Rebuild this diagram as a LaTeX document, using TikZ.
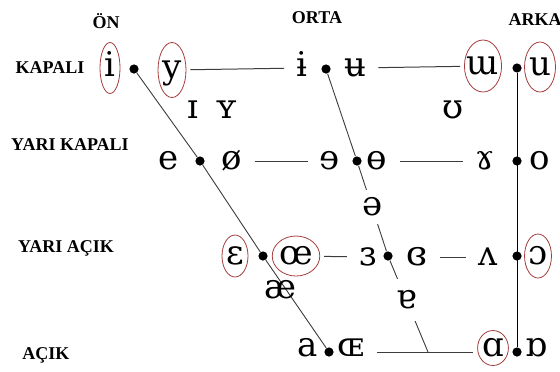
\documentclass[tikz,border=0pt]{standalone}
\usepackage{fontspec}
\setmainfont{Liberation Serif}
\newfontfamily\ipafont{DejaVu Serif}
\usetikzlibrary{shapes.geometric}
\definecolor{ringred}{RGB}{165,60,60}
\definecolor{chartgray}{RGB}{60,60,60}

\begin{document}
\begin{tikzpicture}[x=0.5pt, y=-0.5pt,
  every node/.style={inner sep=0pt},
  vowel/.style={font=\ipafont\fontsize{17}{20}\selectfont, text height=8.8pt, text depth=0pt, inner xsep=4pt},
  ringed/.style={vowel, ellipse, draw=ringred, line width=0.4pt, inner xsep=0pt},
  gapped/.style={vowel, fill=white, inner ysep=4pt},
  hdot/.style={circle, fill=black, minimum size=4.6pt},
  rowlabel/.style={font=\fontsize{9}{10}\selectfont\bfseries},
  chartline/.style={draw=chartgray, line width=0.5pt, shorten <=2pt, shorten >=2pt},
  slantline/.style={draw=chartgray, line width=0.45pt}]
  \useasboundingbox (0,0) rectangle (560,371);
  % column and row titles
  \node[rowlabel] (on) at (106,21) {ÖN};
  \node[rowlabel] (orta) at (317,18) {ORTA};
  \node[rowlabel] (arka) at (535,20) {ARKA};
  \node[rowlabel] (kapali) at (50,68) {KAPALI};
  \node[rowlabel] (yarikapali) at (70,145) {YARI KAPALI};
  \node[rowlabel] (yariacik) at (66,248) {YARI AÇIK};
  \node[rowlabel] (acik) at (46,355) {AÇIK};
  % kapali
  \node[ringed, minimum width=10pt, minimum height=25.5pt] (vI) at (110,68) {i};
  \node[hdot] (dOnKap) at (134,69) {};
  \node[ringed, minimum width=14pt, minimum height=27.5pt] (vY) at (172,70) {y};
  \node[vowel] (vBarI) at (302,68) {ɨ};
  \node[hdot] (dOrtaKap) at (326,69) {};
  \node[vowel] (vBarU) at (355,68) {ʉ};
  \node[ringed, inner xsep=-1.5pt, minimum width=16.5pt, minimum height=26pt] (vW) at (483,66) {ɯ};
  \node[hdot] (dArkaKap) at (517,68) {};
  \node[ringed, minimum width=9.5pt, minimum height=25pt] (vU) at (540,67) {u};
  % near-close
  \node[vowel] (vSmI) at (193,110) {ɪ};
  \node[vowel] (vSmY) at (227,110) {ʏ};
  \node[vowel] (vHorse) at (453,110) {ʊ};
  % yari kapali
  \node[vowel] (vE) at (169,161) {e};
  \node[hdot] (dOnYK) at (200,161) {};
  \node[vowel] (vOslash) at (232,161) {ø};
  \node[vowel] (vRevE) at (330,161) {ɘ};
  \node[hdot] (dOrtaYK) at (357,161) {};
  \node[vowel] (vBarO) at (377,161) {ɵ};
  \node[vowel] (vRams) at (485,161) {ɤ};
  \node[hdot] (dArkaYK) at (517,161) {};
  \node[vowel] (vO) at (540,161) {o};
  % yari acik
  \node[ringed, minimum width=13pt, minimum height=21pt] (vEps) at (235,256) {ɛ};
  \node[hdot] (dOnYA) at (263,256) {};
  \node[ringed, minimum width=21pt, minimum height=20pt] (vOe) at (296,256) {œ};
  \node[vowel] (vRevEps) at (368,257) {ɜ};
  \node[hdot] (dOrtaYA) at (388,256) {};
  \node[vowel] (vClEps) at (417,257) {ɞ};
  \node[vowel] (vWedge) at (488,257) {ʌ};
  \node[hdot] (dArkaYA) at (517,256) {};
  \node[ringed, minimum width=13pt, minimum height=22pt] (vOpenO) at (538,256) {ɔ};
  % acik
  \node[vowel] (vA) at (308,348) {a};
  \node[hdot] (dOnAc) at (329,352) {};
  \node[vowel] (vOE) at (351,348) {ɶ};
  \node[ringed, minimum width=14pt, minimum height=17.5pt] (vAlpha) at (493,348) {ɑ};
  \node[hdot] (dArkaAc) at (517,352) {};
  \node[vowel] (vTurnAlpha) at (536,348) {ɒ};
  \coordinate (cb) at (428,352);
  % edges of the trapezium
  \draw[slantline] (dOnKap) -- (dOnYK) -- (dOnYA) -- (dOnAc);
  \draw[slantline] (dOrtaKap) -- (dOrtaYK) -- (dOrtaYA) -- (cb);
  \draw[black, line width=0.5pt] (dArkaKap) -- (dArkaAc);
  \draw[chartline] (vY) -- (vBarI);
  \draw[chartline] (vBarU) -- (vW);
  \draw[chartline] (vOslash) -- (vRevE);
  \draw[chartline] (vBarO) -- (vRams);
  \draw[chartline] (vOe) -- (vRevEps);
  \draw[chartline] (vClEps) -- (vWedge);
  \draw[chartline] (vOE.east |- dOnAc) -- (vAlpha.west |- dOnAc);
  % central vowels sit on the line
  \node[gapped] (vSchwa) at (373,207) {ə};
  \node[gapped, inner ysep=6pt] (vTurnA) at (407,300) {ɐ};
  \node[vowel] (vAsh) at (280,290) {æ};
\end{tikzpicture}
\end{document}
